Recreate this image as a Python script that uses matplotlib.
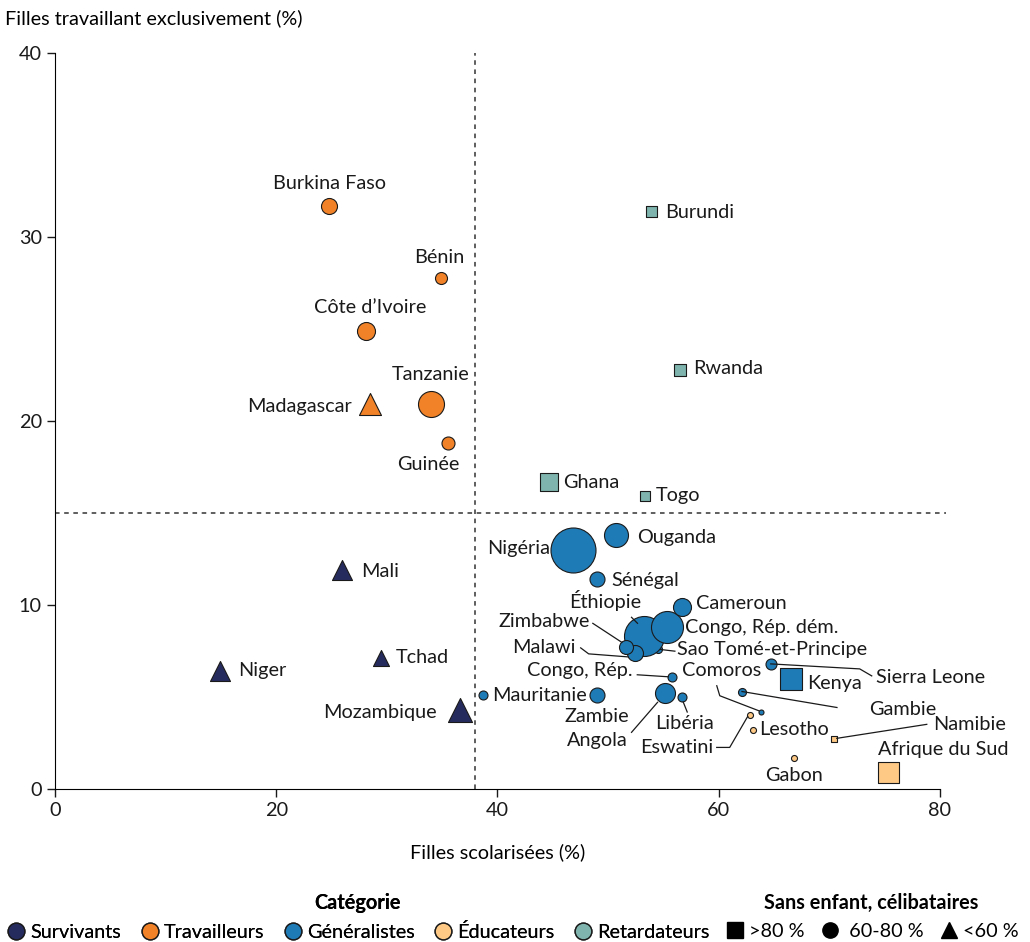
import matplotlib.pyplot as plt
from matplotlib.lines import Line2D

plt.rcParams['font.family'] = ['Lato', 'DejaVu Sans']

# ---- data ----
pays = ['Burkina Faso', 'Bénin', "Côte d’Ivoire", 'Tanzanie', 'Madagascar', 'Guinée',
        'Burundi', 'Rwanda', 'Ghana', 'Togo',
        'Nigéria', 'Ouganda', 'Sénégal', 'Cameroun', 'Éthiopie', 'Congo, Rép. dém.',
        'Zimbabwe', 'Malawi', 'Sao Tomé-et-Principe', 'Congo, Rép.', 'Mauritanie',
        'Zambie', 'Angola', 'Libéria', 'Sierra Leone', 'Kenya', 'Gambie', 'Comoros',
        'Eswatini', 'Lesotho', 'Namibie', 'Gabon', 'Afrique du Sud',
        'Mali', 'Tchad', 'Niger', 'Mozambique']
scolarisees = [24.8, 34.9, 28.1, 34.0, 28.5, 35.5,
               53.9, 56.5, 44.7, 53.3,
               46.8, 50.7, 49.0, 56.7, 53.2, 55.3,
               51.6, 52.4, 54.5, 55.8, 38.7,
               49.0, 55.1, 56.7, 64.7, 66.5, 62.1, 63.8,
               62.8, 63.1, 70.4, 66.8, 75.3,
               25.9, 29.5, 14.9, 36.6]
travaillant = [31.7, 27.8, 24.9, 20.9, 20.9, 18.8,
               31.4, 22.8, 16.7, 15.9,
               13.0, 13.8, 11.4, 9.9, 8.3, 8.8,
               7.7, 7.4, 7.6, 6.1, 5.1,
               5.1, 5.2, 5.0, 6.8, 6.0, 5.3, 4.2,
               4.0, 3.2, 2.7, 1.7, 0.9,
               11.9, 7.1, 6.4, 4.3]
categorie = (['Travailleurs'] * 6 + ['Retardateurs'] * 4 + ['Généralistes'] * 18 +
             ['Éducateurs'] * 5 + ['Survivants'] * 4)
sans_enfant = ['60-80', '60-80', '60-80', '60-80', '<60', '60-80',
               '>80', '>80', '>80', '>80',
               '60-80', '60-80', '60-80', '60-80', '60-80', '60-80',
               '60-80', '60-80', '60-80', '60-80', '60-80',
               '60-80', '60-80', '60-80', '60-80', '>80', '60-80', '60-80',
               '60-80', '60-80', '>80', '60-80', '>80',
               '<60', '<60', '<60', '<60']
# bubble size (relative population)
taille = [16, 12, 18, 26, 22, 13,
          11, 12, 18, 10,
          45, 24, 15, 18, 40, 32,
          14, 16, 8, 9, 9,
          15, 20, 9, 11, 22, 8, 5,
          6, 6, 6, 6, 21,
          20, 16, 20, 24]

cat_names = ['Survivants', 'Travailleurs', 'Généralistes', 'Éducateurs', 'Retardateurs']
cat_colors = {'Survivants': '#262b5e', 'Travailleurs': '#f28227', 'Généralistes': '#1f7bb6',
              'Éducateurs': '#fdc985', 'Retardateurs': '#7fb4ae'}
shape_names = ['>80', '60-80', '<60']
shape_lab = {'>80': '>80 %', '60-80': ' 60-80 %', '<60': '<60 %'}
shape_markers = {'>80': 's', '60-80': 'o', '<60': '^'}

# label placement: (dx, dy) in pixels from the point, alignment
lab = {
    'Burkina Faso': (0, 22, 'center'), 'Bénin': (-2, 20, 'center'),
    "Côte d’Ivoire": (4, 23, 'center'), 'Tanzanie': (0, 30, 'center'),
    'Madagascar': (-18, -2, 'right'), 'Guinée': (-19, -21, 'center'),
    'Burundi': (14, -1, 'left'), 'Rwanda': (13, 1, 'left'),
    'Ghana': (14, -1, 'left'), 'Togo': (11, 1, 'left'),
    'Nigéria': (-23, 1, 'right'), 'Ouganda': (21, -2, 'left'),
    'Sénégal': (14, -1, 'left'), 'Cameroun': (14, 3, 'left'),
    'Éthiopie': (-38, 36, 'center'), 'Congo, Rép. dém.': (18, 0, 'left'),
    'Zimbabwe': (-36, 26, 'right'), 'Malawi': (-59, 5, 'right'),
    'Sao Tomé-et-Principe': (19, 0, 'left'), 'Congo, Rép.': (-40, 6, 'right'),
    'Mauritanie': (9, 0, 'left'), 'Zambie': (0, -21, 'center'),
    'Angola': (-67, -47, 'center'), 'Libéria': (2, -26, 'center'),
    'Sierra Leone': (105, -14, 'left'), 'Kenya': (16, -5, 'left'),
    'Gambie': (161, -18, 'center'), 'Comoros': (-39, 41, 'center'),
    'Eswatini': (-36, -32, 'right'), 'Lesotho': (6, 1, 'left'),
    'Namibie': (136, 15, 'center'), 'Gabon': (0, -18, 'center'),
    'Afrique du Sud': (55, 23, 'center'),
    'Mali': (20, -1, 'left'), 'Tchad': (14, 1, 'left'),
    'Niger': (18, 1, 'left'), 'Mozambique': (-23, -3, 'right'),
}
# leader lines: waypoints in pixels from the point
leaders = {
    'Éthiopie': [(-12, 19), (-6, 13)],
    'Zimbabwe': [(-33, 24), (-4, 5)],
    'Malawi': [(-54, 5), (-46, -1), (-7, -4)],
    'Sao Tomé-et-Principe': [(0, 0), (17, -2)],
    'Congo, Rép.': [(-35, 2), (-4, 0)],
    'Angola': [(-33, -39), (-7, -9)],
    'Libéria': [(5, -15), (1, -5)],
    'Comoros': [(-44, 26), (-41, 16), (-2, 1)],
    'Gambie': [(0, 0), (95, -16)],
    'Sierra Leone': [(0, 0), (89, -5), (101, -12)],
    'Eswatini': [(-33, -32), (-20, -32), (-2, -1)],
    'Namibie': [(3, 1), (93, 15)],
}

# ---- figure ----
fig = plt.figure(figsize=(10.3, 9.42), dpi=100)
ax = fig.add_axes([0.0534, 0.1624, 0.8592, 0.7813])
ax.set_xlim(0, 80)
ax.set_ylim(0, 40)
px = 72 / 100.0
FS = 14.3

ax.axvline(38, color='#333333', linestyle=(0, (3, 3)), linewidth=1.1, zorder=1)
ax.plot([0, 80.5], [15, 15], color='#333333', linestyle=(0, (3, 3)), linewidth=1.1,
        zorder=1, clip_on=False)

order = sorted(range(len(pays)), key=lambda i: -taille[i])
for i in order:
    z = 2 if pays[i] == 'Sao Tomé-et-Principe' else 3
    ax.scatter(scolarisees[i], travaillant[i], s=(taille[i] * px) ** 2,
               marker=shape_markers[sans_enfant[i]], color=cat_colors[categorie[i]],
               edgecolor='#1a1a1a', linewidth=0.8, zorder=z, clip_on=False)

inv = ax.transData.inverted()
for i, p in enumerate(pays):
    dx, dy, ha = lab[p]
    ax.annotate(p, (scolarisees[i], travaillant[i]), xytext=(dx, dy),
                textcoords='offset pixels', ha=ha, va='center', fontsize=FS,
                color='#1a1a1a', zorder=4)
    if p in leaders:
        x0, y0 = ax.transData.transform((scolarisees[i], travaillant[i]))
        pts = [inv.transform((x0 + ox, y0 + oy)) for ox, oy in leaders[p]]
        ax.plot([q[0] for q in pts], [q[1] for q in pts], color='#1a1a1a',
                linewidth=0.9, zorder=2.5 if p == 'Sao Tomé-et-Principe' else 4,
                clip_on=False)

ax.set_xticks([0, 20, 40, 60, 80])
ax.set_yticks([0, 10, 20, 30, 40])
ax.spines['top'].set_visible(False)
ax.spines['right'].set_visible(False)
ax.tick_params(labelsize=FS, length=6, width=1, colors='#1a1a1a')
ax.set_xlabel('Filles scolarisées (%)', fontsize=FS, labelpad=17)
fig.text(0.005, 0.981, 'Filles travaillant exclusivement (%)', fontsize=FS, va='center')

# ---- legends ----
cat_handles = [Line2D([], [], marker='o', linestyle='', markersize=12,
                      markerfacecolor=cat_colors[c], markeredgecolor='#1a1a1a',
                      label=c) for c in cat_names]
leg1 = fig.legend(handles=cat_handles, loc='center', bbox_to_anchor=(0.347, 0.027),
                  ncol=5, frameon=False, title='Catégorie', fontsize=FS,
                  title_fontproperties={'weight': 'bold', 'size': FS},
                  handletextpad=0.15, columnspacing=0.9, handlelength=1.1)
shp_handles = [Line2D([], [], marker=shape_markers[s], linestyle='', markersize=11,
                      color='black', label=shape_lab[s]) for s in shape_names]
leg2 = fig.legend(handles=shp_handles, loc='center', bbox_to_anchor=(0.846, 0.027),
                  ncol=3, frameon=False, title='Sans enfant, célibataires', fontsize=FS,
                  title_fontproperties={'weight': 'bold', 'size': FS},
                  handletextpad=0.15, columnspacing=0.75, handlelength=1.1)
fig.add_artist(leg1)

fig.savefig('out.png', dpi=100)
